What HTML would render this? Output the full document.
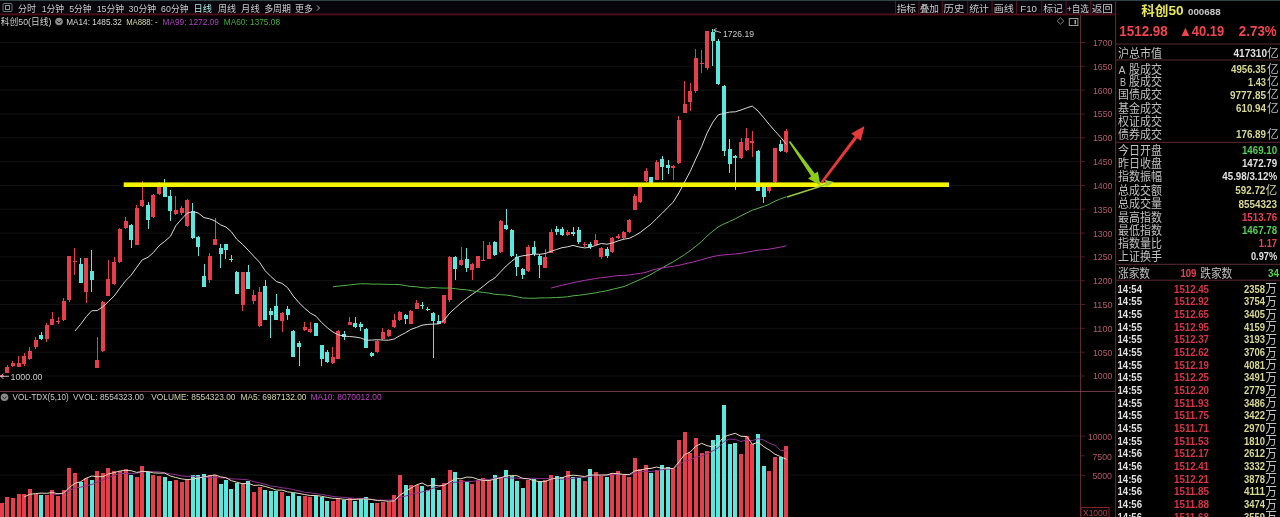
<!DOCTYPE html>
<html><head><meta charset="utf-8"><title>科创50</title>
<style>
html,body{margin:0;padding:0;background:#000;}
body{width:1280px;height:517px;overflow:hidden;position:relative;}
svg{position:absolute;left:0;top:0;display:block;font-family:'Liberation Sans','Noto Sans CJK SC',sans-serif;}
</style></head><body>
<svg width="1280" height="517" viewBox="0 0 1280 517">
<rect x="0" y="1" width="1116" height="12.5" fill="#08050d"/>
<g stroke="#121212" stroke-width="1">
<line x1="0" y1="42.5" x2="1080" y2="42.5"/>
<line x1="0" y1="66.3" x2="1080" y2="66.3"/>
<line x1="0" y1="90.1" x2="1080" y2="90.1"/>
<line x1="0" y1="114.0" x2="1080" y2="114.0"/>
<line x1="0" y1="137.8" x2="1080" y2="137.8"/>
<line x1="0" y1="161.6" x2="1080" y2="161.6"/>
<line x1="0" y1="185.4" x2="1080" y2="185.4"/>
<line x1="0" y1="209.2" x2="1080" y2="209.2"/>
<line x1="0" y1="233.1" x2="1080" y2="233.1"/>
<line x1="0" y1="256.9" x2="1080" y2="256.9"/>
<line x1="0" y1="280.7" x2="1080" y2="280.7"/>
<line x1="0" y1="304.5" x2="1080" y2="304.5"/>
<line x1="0" y1="328.3" x2="1080" y2="328.3"/>
<line x1="0" y1="352.2" x2="1080" y2="352.2"/>
<line x1="0" y1="376.0" x2="1080" y2="376.0"/>
<line x1="0" y1="435.8" x2="1080" y2="435.8"/>
<line x1="0" y1="475.0" x2="1080" y2="475.0"/>
</g>
<g shape-rendering="crispEdges">
<rect x="1.1" y="375.0" width="1" height="2.0" fill="#e83e4c"/>
<rect x="-0.4" y="375.3" width="4" height="1.3" fill="#e83e4c"/>
<rect x="6.9" y="365.0" width="1" height="8.0" fill="#e83e4c"/>
<rect x="5.4" y="366.5" width="4" height="6.0" fill="#e83e4c"/>
<rect x="12.4" y="361.0" width="1" height="5.5" fill="#e83e4c"/>
<rect x="10.9" y="362.5" width="4" height="3.0" fill="#e83e4c"/>
<rect x="18.1" y="356.0" width="1" height="11.0" fill="#e83e4c"/>
<rect x="16.6" y="362.5" width="4" height="4.0" fill="#e83e4c"/>
<rect x="23.6" y="353.0" width="1" height="13.0" fill="#e83e4c"/>
<rect x="22.1" y="355.5" width="4" height="8.0" fill="#e83e4c"/>
<rect x="29.3" y="347.4" width="1" height="12.6" fill="#e83e4c"/>
<rect x="27.8" y="350.5" width="4" height="8.2" fill="#e83e4c"/>
<rect x="35.0" y="337.0" width="1" height="11.5" fill="#e83e4c"/>
<rect x="33.5" y="339.5" width="4" height="7.5" fill="#e83e4c"/>
<rect x="40.5" y="332.0" width="1" height="7.5" fill="#58e8e0"/>
<rect x="39.0" y="335.0" width="4" height="3.5" fill="#58e8e0"/>
<rect x="46.2" y="323.0" width="1" height="19.0" fill="#e83e4c"/>
<rect x="44.7" y="325.3" width="4" height="14.1" fill="#e83e4c"/>
<rect x="51.9" y="311.5" width="1" height="13.5" fill="#e83e4c"/>
<rect x="50.4" y="319.0" width="4" height="5.5" fill="#e83e4c"/>
<rect x="57.5" y="317.0" width="1" height="7.0" fill="#e83e4c"/>
<rect x="56.0" y="320.5" width="4" height="1.5" fill="#e83e4c"/>
<rect x="63.1" y="298.0" width="1" height="23.0" fill="#e83e4c"/>
<rect x="61.6" y="301.4" width="4" height="18.6" fill="#e83e4c"/>
<rect x="68.5" y="255.5" width="1" height="46.5" fill="#e83e4c"/>
<rect x="67.0" y="256.4" width="4" height="43.3" fill="#e83e4c"/>
<rect x="74.4" y="247.5" width="1" height="27.5" fill="#e83e4c"/>
<rect x="72.9" y="260.5" width="4" height="1.5" fill="#e83e4c"/>
<rect x="80.1" y="257.6" width="1" height="25.8" fill="#58e8e0"/>
<rect x="78.6" y="264.0" width="4" height="18.8" fill="#58e8e0"/>
<rect x="85.8" y="257.6" width="1" height="45.4" fill="#e83e4c"/>
<rect x="84.3" y="258.0" width="4" height="33.6" fill="#e83e4c"/>
<rect x="91.3" y="250.0" width="1" height="41.6" fill="#58e8e0"/>
<rect x="89.8" y="270.8" width="4" height="8.8" fill="#58e8e0"/>
<rect x="96.7" y="336.5" width="1" height="31.5" fill="#e83e4c"/>
<rect x="95.2" y="360.4" width="4" height="7.6" fill="#e83e4c"/>
<rect x="102.4" y="301.0" width="1" height="51.0" fill="#e83e4c"/>
<rect x="100.9" y="302.0" width="4" height="49.4" fill="#e83e4c"/>
<rect x="107.8" y="260.0" width="1" height="36.0" fill="#e83e4c"/>
<rect x="106.3" y="279.4" width="4" height="16.6" fill="#e83e4c"/>
<rect x="113.6" y="257.0" width="1" height="28.4" fill="#e83e4c"/>
<rect x="112.1" y="261.5" width="4" height="22.5" fill="#e83e4c"/>
<rect x="119.3" y="228.0" width="1" height="35.0" fill="#e83e4c"/>
<rect x="117.8" y="229.4" width="4" height="32.1" fill="#e83e4c"/>
<rect x="125.0" y="216.5" width="1" height="12.0" fill="#e83e4c"/>
<rect x="123.5" y="221.0" width="4" height="6.6" fill="#e83e4c"/>
<rect x="130.6" y="224.0" width="1" height="24.0" fill="#58e8e0"/>
<rect x="129.1" y="224.6" width="4" height="15.0" fill="#58e8e0"/>
<rect x="136.3" y="204.5" width="1" height="40.5" fill="#e83e4c"/>
<rect x="134.8" y="208.4" width="4" height="36.6" fill="#e83e4c"/>
<rect x="141.7" y="180.5" width="1" height="26.5" fill="#e83e4c"/>
<rect x="140.2" y="199.5" width="4" height="6.5" fill="#e83e4c"/>
<rect x="147.5" y="201.5" width="1" height="27.0" fill="#58e8e0"/>
<rect x="146.0" y="205.4" width="4" height="14.1" fill="#58e8e0"/>
<rect x="152.9" y="193.5" width="1" height="24.5" fill="#e83e4c"/>
<rect x="151.4" y="194.6" width="4" height="21.9" fill="#e83e4c"/>
<rect x="158.6" y="182.0" width="1" height="12.5" fill="#e83e4c"/>
<rect x="157.1" y="187.4" width="4" height="6.6" fill="#e83e4c"/>
<rect x="164.2" y="179.0" width="1" height="18.0" fill="#58e8e0"/>
<rect x="162.7" y="186.5" width="4" height="10.5" fill="#58e8e0"/>
<rect x="169.9" y="189.5" width="1" height="31.5" fill="#58e8e0"/>
<rect x="168.4" y="196.4" width="4" height="14.1" fill="#58e8e0"/>
<rect x="175.3" y="196.0" width="1" height="19.0" fill="#e83e4c"/>
<rect x="173.8" y="210.0" width="4" height="4.4" fill="#e83e4c"/>
<rect x="181.1" y="206.0" width="1" height="9.0" fill="#e83e4c"/>
<rect x="179.6" y="208.4" width="4" height="4.6" fill="#e83e4c"/>
<rect x="186.5" y="198.5" width="1" height="28.5" fill="#e83e4c"/>
<rect x="185.0" y="200.0" width="4" height="25.5" fill="#e83e4c"/>
<rect x="192.2" y="203.0" width="1" height="36.0" fill="#58e8e0"/>
<rect x="190.7" y="210.5" width="4" height="27.0" fill="#58e8e0"/>
<rect x="197.6" y="236.0" width="1" height="19.5" fill="#58e8e0"/>
<rect x="196.1" y="236.5" width="4" height="10.9" fill="#58e8e0"/>
<rect x="203.5" y="264.4" width="1" height="22.6" fill="#58e8e0"/>
<rect x="202.0" y="276.4" width="4" height="10.6" fill="#58e8e0"/>
<rect x="209.1" y="252.5" width="1" height="30.0" fill="#e83e4c"/>
<rect x="207.6" y="255.5" width="4" height="24.5" fill="#e83e4c"/>
<rect x="214.5" y="218.0" width="1" height="27.0" fill="#e83e4c"/>
<rect x="213.0" y="239.0" width="4" height="6.0" fill="#e83e4c"/>
<rect x="220.0" y="243.5" width="1" height="24.0" fill="#58e8e0"/>
<rect x="218.5" y="248.0" width="4" height="6.0" fill="#58e8e0"/>
<rect x="225.4" y="243.5" width="1" height="15.0" fill="#58e8e0"/>
<rect x="223.9" y="243.5" width="4" height="6.0" fill="#58e8e0"/>
<rect x="230.8" y="254.5" width="1" height="7.5" fill="#58e8e0"/>
<rect x="229.3" y="258.5" width="4" height="1.5" fill="#58e8e0"/>
<rect x="236.2" y="270.5" width="1" height="23.0" fill="#58e8e0"/>
<rect x="234.7" y="272.0" width="4" height="21.5" fill="#58e8e0"/>
<rect x="242.3" y="272.0" width="1" height="39.0" fill="#e83e4c"/>
<rect x="240.8" y="272.0" width="4" height="33.0" fill="#e83e4c"/>
<rect x="247.7" y="264.5" width="1" height="24.0" fill="#58e8e0"/>
<rect x="246.2" y="272.0" width="4" height="16.5" fill="#58e8e0"/>
<rect x="253.3" y="290.0" width="1" height="13.5" fill="#e83e4c"/>
<rect x="251.8" y="295.4" width="4" height="5.1" fill="#e83e4c"/>
<rect x="259.0" y="287.0" width="1" height="40.4" fill="#e83e4c"/>
<rect x="257.5" y="291.5" width="4" height="34.5" fill="#e83e4c"/>
<rect x="264.7" y="280.4" width="1" height="39.6" fill="#58e8e0"/>
<rect x="263.2" y="285.5" width="4" height="34.5" fill="#58e8e0"/>
<rect x="270.2" y="308.0" width="1" height="30.0" fill="#58e8e0"/>
<rect x="268.7" y="311.0" width="4" height="4.4" fill="#58e8e0"/>
<rect x="275.9" y="293.5" width="1" height="26.5" fill="#58e8e0"/>
<rect x="274.4" y="306.4" width="4" height="13.6" fill="#58e8e0"/>
<rect x="281.5" y="312.4" width="1" height="19.6" fill="#e83e4c"/>
<rect x="280.0" y="313.3" width="4" height="8.1" fill="#e83e4c"/>
<rect x="287.1" y="305.5" width="1" height="14.5" fill="#58e8e0"/>
<rect x="285.6" y="309.4" width="4" height="6.0" fill="#58e8e0"/>
<rect x="292.8" y="330.0" width="1" height="27.0" fill="#58e8e0"/>
<rect x="291.3" y="330.6" width="4" height="26.1" fill="#58e8e0"/>
<rect x="298.5" y="341.0" width="1" height="25.4" fill="#58e8e0"/>
<rect x="297.0" y="343.4" width="4" height="3.2" fill="#58e8e0"/>
<rect x="304.1" y="321.7" width="1" height="9.6" fill="#e83e4c"/>
<rect x="302.6" y="326.5" width="4" height="3.5" fill="#e83e4c"/>
<rect x="309.8" y="321.7" width="1" height="10.8" fill="#e83e4c"/>
<rect x="308.3" y="329.0" width="4" height="3.0" fill="#e83e4c"/>
<rect x="315.5" y="322.8" width="1" height="13.2" fill="#58e8e0"/>
<rect x="314.0" y="323.3" width="4" height="12.7" fill="#58e8e0"/>
<rect x="321.0" y="344.6" width="1" height="21.8" fill="#58e8e0"/>
<rect x="319.5" y="345.0" width="4" height="14.0" fill="#58e8e0"/>
<rect x="326.7" y="350.0" width="1" height="12.8" fill="#58e8e0"/>
<rect x="325.2" y="352.0" width="4" height="9.5" fill="#58e8e0"/>
<rect x="332.4" y="347.0" width="1" height="17.0" fill="#e83e4c"/>
<rect x="330.9" y="356.7" width="4" height="6.1" fill="#e83e4c"/>
<rect x="337.8" y="330.0" width="1" height="29.0" fill="#e83e4c"/>
<rect x="336.3" y="331.3" width="4" height="27.7" fill="#e83e4c"/>
<rect x="343.6" y="331.3" width="1" height="8.5" fill="#58e8e0"/>
<rect x="342.1" y="333.7" width="4" height="3.7" fill="#58e8e0"/>
<rect x="349.0" y="316.8" width="1" height="8.5" fill="#e83e4c"/>
<rect x="347.5" y="321.7" width="4" height="3.1" fill="#e83e4c"/>
<rect x="354.5" y="316.8" width="1" height="10.9" fill="#58e8e0"/>
<rect x="353.0" y="322.9" width="4" height="3.6" fill="#58e8e0"/>
<rect x="360.1" y="322.4" width="1" height="8.9" fill="#58e8e0"/>
<rect x="358.6" y="324.0" width="4" height="2.5" fill="#58e8e0"/>
<rect x="365.7" y="327.7" width="1" height="20.3" fill="#58e8e0"/>
<rect x="364.2" y="329.0" width="4" height="18.5" fill="#58e8e0"/>
<rect x="371.4" y="352.0" width="1" height="4.7" fill="#58e8e0"/>
<rect x="369.9" y="353.0" width="4" height="2.5" fill="#58e8e0"/>
<rect x="376.9" y="339.8" width="1" height="13.2" fill="#e83e4c"/>
<rect x="375.4" y="341.0" width="4" height="11.0" fill="#e83e4c"/>
<rect x="382.4" y="327.7" width="1" height="12.1" fill="#e83e4c"/>
<rect x="380.9" y="332.0" width="4" height="6.6" fill="#e83e4c"/>
<rect x="388.0" y="329.0" width="1" height="8.4" fill="#e83e4c"/>
<rect x="386.5" y="330.0" width="4" height="6.0" fill="#e83e4c"/>
<rect x="393.7" y="314.4" width="1" height="13.3" fill="#e83e4c"/>
<rect x="392.2" y="320.0" width="4" height="7.0" fill="#e83e4c"/>
<rect x="399.3" y="311.0" width="1" height="10.0" fill="#e83e4c"/>
<rect x="397.8" y="312.4" width="4" height="7.6" fill="#e83e4c"/>
<rect x="405.0" y="314.0" width="1" height="10.4" fill="#58e8e0"/>
<rect x="403.5" y="314.5" width="4" height="4.8" fill="#58e8e0"/>
<rect x="410.4" y="309.5" width="1" height="14.9" fill="#e83e4c"/>
<rect x="408.9" y="311.0" width="4" height="13.4" fill="#e83e4c"/>
<rect x="416.1" y="300.4" width="1" height="9.0" fill="#e83e4c"/>
<rect x="414.6" y="303.4" width="4" height="5.1" fill="#e83e4c"/>
<rect x="421.6" y="302.0" width="1" height="6.5" fill="#58e8e0"/>
<rect x="420.1" y="305.0" width="4" height="1.4" fill="#58e8e0"/>
<rect x="427.3" y="306.5" width="1" height="4.5" fill="#58e8e0"/>
<rect x="425.8" y="308.5" width="4" height="1.8" fill="#58e8e0"/>
<rect x="432.5" y="312.4" width="1" height="45.6" fill="#58e8e0"/>
<rect x="431.0" y="313.3" width="4" height="8.1" fill="#58e8e0"/>
<rect x="438.1" y="315.4" width="1" height="9.0" fill="#58e8e0"/>
<rect x="436.6" y="321.4" width="4" height="3.0" fill="#58e8e0"/>
<rect x="443.5" y="294.5" width="1" height="29.0" fill="#e83e4c"/>
<rect x="442.0" y="295.4" width="4" height="27.6" fill="#e83e4c"/>
<rect x="449.2" y="255.5" width="1" height="46.5" fill="#e83e4c"/>
<rect x="447.7" y="257.0" width="4" height="43.4" fill="#e83e4c"/>
<rect x="454.8" y="256.4" width="1" height="23.1" fill="#58e8e0"/>
<rect x="453.3" y="257.0" width="4" height="12.0" fill="#58e8e0"/>
<rect x="460.5" y="246.5" width="1" height="19.5" fill="#e83e4c"/>
<rect x="459.0" y="260.0" width="4" height="5.4" fill="#e83e4c"/>
<rect x="466.2" y="248.0" width="1" height="24.0" fill="#58e8e0"/>
<rect x="464.7" y="258.7" width="4" height="9.6" fill="#58e8e0"/>
<rect x="471.7" y="263.0" width="1" height="16.5" fill="#e83e4c"/>
<rect x="470.2" y="264.0" width="4" height="6.4" fill="#e83e4c"/>
<rect x="477.4" y="255.5" width="1" height="12.9" fill="#e83e4c"/>
<rect x="475.9" y="256.0" width="4" height="11.8" fill="#e83e4c"/>
<rect x="482.8" y="240.6" width="1" height="20.8" fill="#e83e4c"/>
<rect x="481.3" y="259.8" width="4" height="1.6" fill="#e83e4c"/>
<rect x="488.7" y="241.7" width="1" height="17.6" fill="#e83e4c"/>
<rect x="487.2" y="244.9" width="4" height="13.8" fill="#e83e4c"/>
<rect x="494.3" y="241.4" width="1" height="14.1" fill="#58e8e0"/>
<rect x="492.8" y="242.2" width="4" height="12.3" fill="#58e8e0"/>
<rect x="500.0" y="219.5" width="1" height="33.0" fill="#e83e4c"/>
<rect x="498.5" y="221.0" width="4" height="30.6" fill="#e83e4c"/>
<rect x="505.6" y="209.0" width="1" height="21.0" fill="#58e8e0"/>
<rect x="504.1" y="224.6" width="4" height="4.8" fill="#58e8e0"/>
<rect x="511.0" y="228.5" width="1" height="28.5" fill="#58e8e0"/>
<rect x="509.5" y="230.0" width="4" height="25.5" fill="#58e8e0"/>
<rect x="516.4" y="254.0" width="1" height="21.5" fill="#58e8e0"/>
<rect x="514.9" y="257.0" width="4" height="9.5" fill="#58e8e0"/>
<rect x="522.2" y="267.5" width="1" height="11.0" fill="#58e8e0"/>
<rect x="520.7" y="269.0" width="4" height="6.0" fill="#58e8e0"/>
<rect x="527.9" y="245.0" width="1" height="27.0" fill="#e83e4c"/>
<rect x="526.4" y="246.5" width="4" height="24.9" fill="#e83e4c"/>
<rect x="533.6" y="241.4" width="1" height="14.1" fill="#58e8e0"/>
<rect x="532.1" y="246.5" width="4" height="7.5" fill="#58e8e0"/>
<rect x="539.2" y="254.0" width="1" height="24.0" fill="#58e8e0"/>
<rect x="537.7" y="255.5" width="4" height="9.9" fill="#58e8e0"/>
<rect x="544.9" y="248.6" width="1" height="19.8" fill="#e83e4c"/>
<rect x="543.4" y="257.0" width="4" height="10.5" fill="#e83e4c"/>
<rect x="550.5" y="228.5" width="1" height="24.0" fill="#e83e4c"/>
<rect x="549.0" y="232.4" width="4" height="20.1" fill="#e83e4c"/>
<rect x="556.0" y="225.5" width="1" height="9.0" fill="#58e8e0"/>
<rect x="554.5" y="228.5" width="4" height="3.0" fill="#58e8e0"/>
<rect x="561.5" y="227.0" width="1" height="9.0" fill="#58e8e0"/>
<rect x="560.0" y="228.5" width="4" height="6.0" fill="#58e8e0"/>
<rect x="567.2" y="230.0" width="1" height="6.0" fill="#e83e4c"/>
<rect x="565.7" y="232.4" width="4" height="2.1" fill="#e83e4c"/>
<rect x="572.6" y="227.0" width="1" height="9.0" fill="#58e8e0"/>
<rect x="571.1" y="232.4" width="4" height="1.6" fill="#58e8e0"/>
<rect x="578.3" y="227.0" width="1" height="16.5" fill="#58e8e0"/>
<rect x="576.8" y="230.0" width="4" height="12.0" fill="#58e8e0"/>
<rect x="584.1" y="242.0" width="1" height="4.5" fill="#e83e4c"/>
<rect x="582.6" y="243.5" width="4" height="1.5" fill="#e83e4c"/>
<rect x="589.5" y="242.0" width="1" height="6.5" fill="#58e8e0"/>
<rect x="588.0" y="243.5" width="4" height="3.9" fill="#58e8e0"/>
<rect x="595.2" y="233.5" width="1" height="11.9" fill="#e83e4c"/>
<rect x="593.7" y="240.0" width="4" height="5.0" fill="#e83e4c"/>
<rect x="600.8" y="247.0" width="1" height="11.5" fill="#e83e4c"/>
<rect x="599.3" y="248.4" width="4" height="9.0" fill="#e83e4c"/>
<rect x="606.5" y="247.0" width="1" height="10.5" fill="#58e8e0"/>
<rect x="605.0" y="249.3" width="4" height="6.7" fill="#58e8e0"/>
<rect x="611.9" y="236.5" width="1" height="16.5" fill="#e83e4c"/>
<rect x="610.4" y="238.0" width="4" height="14.3" fill="#e83e4c"/>
<rect x="617.5" y="233.5" width="1" height="5.9" fill="#e83e4c"/>
<rect x="616.0" y="236.0" width="4" height="1.5" fill="#e83e4c"/>
<rect x="623.4" y="230.5" width="1" height="8.0" fill="#e83e4c"/>
<rect x="621.9" y="232.0" width="4" height="6.0" fill="#e83e4c"/>
<rect x="628.8" y="218.5" width="1" height="14.0" fill="#e83e4c"/>
<rect x="627.3" y="220.0" width="4" height="12.0" fill="#e83e4c"/>
<rect x="634.2" y="193.5" width="1" height="16.9" fill="#e83e4c"/>
<rect x="632.7" y="195.5" width="4" height="14.0" fill="#e83e4c"/>
<rect x="639.9" y="183.4" width="1" height="19.2" fill="#e83e4c"/>
<rect x="638.4" y="187.0" width="4" height="15.0" fill="#e83e4c"/>
<rect x="645.5" y="168.0" width="1" height="13.6" fill="#e83e4c"/>
<rect x="644.0" y="171.0" width="4" height="10.0" fill="#e83e4c"/>
<rect x="650.5" y="176.5" width="1" height="10.5" fill="#58e8e0"/>
<rect x="649.0" y="177.4" width="4" height="5.1" fill="#58e8e0"/>
<rect x="656.2" y="159.5" width="1" height="20.9" fill="#e83e4c"/>
<rect x="654.7" y="161.5" width="4" height="18.0" fill="#e83e4c"/>
<rect x="661.9" y="156.4" width="1" height="23.1" fill="#58e8e0"/>
<rect x="660.4" y="158.5" width="4" height="8.1" fill="#58e8e0"/>
<rect x="667.5" y="160.0" width="1" height="14.4" fill="#58e8e0"/>
<rect x="666.0" y="165.4" width="4" height="3.0" fill="#58e8e0"/>
<rect x="672.7" y="165.4" width="1" height="14.1" fill="#e83e4c"/>
<rect x="671.2" y="166.0" width="4" height="1.5" fill="#e83e4c"/>
<rect x="678.4" y="116.0" width="1" height="48.0" fill="#e83e4c"/>
<rect x="676.9" y="119.5" width="4" height="43.5" fill="#e83e4c"/>
<rect x="684.1" y="81.4" width="1" height="32.0" fill="#e83e4c"/>
<rect x="682.6" y="103.5" width="4" height="9.9" fill="#e83e4c"/>
<rect x="689.7" y="82.7" width="1" height="28.3" fill="#e83e4c"/>
<rect x="688.2" y="91.3" width="4" height="11.0" fill="#e83e4c"/>
<rect x="695.4" y="49.4" width="1" height="43.1" fill="#e83e4c"/>
<rect x="693.9" y="58.0" width="4" height="33.3" fill="#e83e4c"/>
<rect x="701.1" y="50.0" width="1" height="23.0" fill="#e83e4c"/>
<rect x="699.6" y="63.0" width="4" height="1.3" fill="#e83e4c"/>
<rect x="706.5" y="30.5" width="1" height="39.5" fill="#e83e4c"/>
<rect x="705.0" y="31.0" width="4" height="37.4" fill="#e83e4c"/>
<rect x="712.4" y="28.8" width="1" height="36.8" fill="#58e8e0"/>
<rect x="710.9" y="31.8" width="4" height="8.8" fill="#58e8e0"/>
<rect x="717.8" y="39.0" width="1" height="46.0" fill="#58e8e0"/>
<rect x="716.3" y="40.6" width="4" height="43.4" fill="#58e8e0"/>
<rect x="723.5" y="85.0" width="1" height="70.8" fill="#58e8e0"/>
<rect x="722.0" y="86.3" width="4" height="65.1" fill="#58e8e0"/>
<rect x="729.1" y="139.0" width="1" height="34.0" fill="#58e8e0"/>
<rect x="727.6" y="148.7" width="4" height="15.7" fill="#58e8e0"/>
<rect x="734.8" y="154.8" width="1" height="34.9" fill="#58e8e0"/>
<rect x="733.3" y="155.7" width="4" height="1.8" fill="#58e8e0"/>
<rect x="740.5" y="138.0" width="1" height="20.8" fill="#e83e4c"/>
<rect x="739.0" y="141.8" width="4" height="16.5" fill="#e83e4c"/>
<rect x="746.2" y="127.8" width="1" height="22.7" fill="#e83e4c"/>
<rect x="744.7" y="138.3" width="4" height="11.3" fill="#e83e4c"/>
<rect x="751.8" y="130.5" width="1" height="26.1" fill="#e83e4c"/>
<rect x="750.3" y="140.6" width="4" height="2.4" fill="#e83e4c"/>
<rect x="757.6" y="150.2" width="1" height="40.5" fill="#58e8e0"/>
<rect x="756.1" y="151.4" width="4" height="39.2" fill="#58e8e0"/>
<rect x="763.3" y="186.2" width="1" height="16.6" fill="#58e8e0"/>
<rect x="761.8" y="187.0" width="4" height="9.7" fill="#58e8e0"/>
<rect x="768.9" y="186.0" width="1" height="7.0" fill="#e83e4c"/>
<rect x="767.4" y="187.0" width="4" height="4.4" fill="#e83e4c"/>
<rect x="774.5" y="147.5" width="1" height="36.5" fill="#e83e4c"/>
<rect x="773.0" y="147.9" width="4" height="33.9" fill="#e83e4c"/>
<rect x="780.2" y="140.0" width="1" height="12.2" fill="#58e8e0"/>
<rect x="778.7" y="144.4" width="4" height="6.1" fill="#58e8e0"/>
<rect x="785.9" y="129.3" width="1" height="23.4" fill="#e83e4c"/>
<rect x="784.4" y="130.5" width="4" height="21.7" fill="#e83e4c"/>
</g>
<polyline points="74.9,331.0 80.6,324.4 86.3,316.6 91.8,310.7 97.2,310.6 102.9,306.7 108.3,301.7 114.1,296.1 119.8,288.3 125.5,280.9 131.1,275.2 136.8,267.2 142.2,259.9 148.0,257.3 153.4,252.5 159.1,245.7 164.7,241.4 170.4,236.4 175.8,225.7 181.6,219.0 187.0,213.3 192.7,211.6 198.1,212.9 204.0,217.6 209.6,218.8 215.0,221.0 220.5,224.8 225.9,227.0 231.3,231.7 236.7,239.2 242.8,244.6 248.2,250.2 253.8,256.3 259.5,262.2 265.2,270.8 270.7,276.3 276.4,281.5 282.0,283.4 287.6,287.7 293.3,296.1 299.0,302.7 304.6,308.2 310.3,313.1 316.0,316.2 321.5,322.4 327.2,327.6 332.9,332.0 338.3,334.8 344.1,336.1 349.5,336.5 355.0,337.0 360.6,337.9 366.2,340.2 371.9,340.1 377.4,339.7 382.9,340.1 388.5,340.2 394.2,339.0 399.8,335.7 405.5,332.7 410.9,329.4 416.6,327.4 422.1,325.2 427.8,324.4 433.0,324.1 438.6,323.9 444.0,320.2 449.7,313.1 455.3,308.0 461.0,302.9 466.7,298.4 472.2,294.4 477.9,290.4 483.3,286.2 489.2,281.4 494.8,278.0 500.5,271.9 506.1,266.1 511.5,261.4 516.9,257.2 522.7,255.8 528.4,255.0 534.1,254.0 539.7,254.3 545.4,253.5 551.0,251.3 556.5,249.5 562.0,247.7 567.7,246.8 573.1,245.4 578.8,246.9 584.6,247.9 590.0,247.3 595.7,245.4 601.3,243.5 607.0,244.2 612.4,243.0 618.0,240.9 623.9,239.2 629.3,238.3 634.7,235.7 640.4,232.3 646.0,227.9 651.0,224.2 656.7,218.5 662.4,213.0 668.0,207.3 673.2,202.1 678.9,192.9 684.6,182.0 690.2,171.5 695.9,158.8 701.6,146.7 707.0,133.2 712.9,122.1 718.3,114.8 724.0,113.4 729.6,112.1 735.3,111.8 741.0,110.0 746.7,107.9 752.3,106.1 758.1,111.1 763.8,117.8 769.4,124.6 775.0,131.1 780.7,137.3 786.4,144.4" fill="none" stroke="#d8d8d8" stroke-width="1"/>
<polyline points="332.9,286.8 338.3,286.1 344.1,285.6 349.5,284.9 355.0,284.3 360.6,283.8 366.2,283.8 371.9,284.1 377.4,284.1 382.9,284.2 388.5,284.4 394.2,284.4 399.8,284.6 405.5,285.6 410.9,286.5 416.6,286.8 422.1,287.6 427.8,288.1 433.0,287.5 438.6,287.9 444.0,288.1 449.7,288.0 455.3,288.7 461.0,289.4 466.7,289.8 472.2,290.8 477.9,291.7 483.3,292.4 489.2,293.2 494.8,294.3 500.5,294.7 506.1,295.0 511.5,295.8 516.9,296.8 522.7,298.0 528.4,298.2 534.1,298.3 539.7,297.9 545.4,297.9 551.0,297.8 556.5,297.5 562.0,297.2 567.7,296.8 573.1,295.8 578.8,295.3 584.6,294.5 590.0,293.7 595.7,292.9 601.3,291.7 607.0,290.7 612.4,289.3 618.0,288.0 623.9,286.6 629.3,284.3 634.7,281.8 640.4,279.5 646.0,276.9 651.0,274.3 656.7,271.0 662.4,267.8 668.0,264.6 673.2,261.9 678.9,258.2 684.6,254.6 690.2,250.7 695.9,246.2 701.6,241.5 707.0,236.1 712.9,231.1 718.3,226.9 724.0,223.9 729.6,221.4 735.3,218.8 741.0,215.8 746.7,212.9 752.3,210.2 758.1,208.3 763.8,206.4 769.4,204.2 775.0,201.2 780.7,198.8 786.4,196.7" fill="none" stroke="#52b446" stroke-width="1"/>
<polyline points="551.0,288.1 556.5,286.6 562.0,285.3 567.7,284.0 573.1,282.7 578.8,281.5 584.6,280.4 590.0,279.5 595.7,278.5 601.3,277.7 607.0,277.1 612.4,276.3 618.0,275.6 623.9,275.4 629.3,275.0 634.7,274.1 640.4,273.4 646.0,272.3 651.0,270.5 656.7,269.0 662.4,267.9 668.0,267.0 673.2,266.3 678.9,265.3 684.6,263.9 690.2,262.7 695.9,261.3 701.6,259.7 707.0,258.1 712.9,256.6 718.3,255.5 724.0,254.9 729.6,254.4 735.3,253.9 741.0,253.3 746.7,252.3 752.3,251.2 758.1,250.2 763.8,249.7 769.4,249.1 775.0,248.1 780.7,247.1 786.4,245.7" fill="none" stroke="#b030b0" stroke-width="1"/>
<g shape-rendering="crispEdges">
<rect x="-0.4" y="502.5" width="4" height="14.5" fill="#e83e4c"/>
<rect x="5.4" y="497.1" width="4" height="19.9" fill="#e83e4c"/>
<rect x="10.9" y="497.8" width="4" height="19.2" fill="#e83e4c"/>
<rect x="16.6" y="493.7" width="4" height="23.3" fill="#e83e4c"/>
<rect x="22.1" y="493.7" width="4" height="23.3" fill="#e83e4c"/>
<rect x="27.8" y="489.2" width="4" height="27.8" fill="#e83e4c"/>
<rect x="33.5" y="493.7" width="4" height="23.3" fill="#e83e4c"/>
<rect x="39.0" y="495.0" width="4" height="22.0" fill="#58e8e0"/>
<rect x="44.7" y="495.0" width="4" height="22.0" fill="#e83e4c"/>
<rect x="50.4" y="489.7" width="4" height="27.3" fill="#e83e4c"/>
<rect x="56.0" y="495.7" width="4" height="21.3" fill="#e83e4c"/>
<rect x="61.6" y="490.0" width="4" height="27.0" fill="#e83e4c"/>
<rect x="67.0" y="468.0" width="4" height="49.0" fill="#e83e4c"/>
<rect x="72.9" y="473.4" width="4" height="43.6" fill="#e83e4c"/>
<rect x="78.6" y="481.5" width="4" height="35.5" fill="#58e8e0"/>
<rect x="84.3" y="477.5" width="4" height="39.5" fill="#e83e4c"/>
<rect x="89.8" y="479.5" width="4" height="37.5" fill="#58e8e0"/>
<rect x="95.2" y="471.4" width="4" height="45.6" fill="#e83e4c"/>
<rect x="100.9" y="473.4" width="4" height="43.6" fill="#e83e4c"/>
<rect x="106.3" y="468.0" width="4" height="49.0" fill="#e83e4c"/>
<rect x="112.1" y="470.7" width="4" height="46.3" fill="#e83e4c"/>
<rect x="117.8" y="471.4" width="4" height="45.6" fill="#e83e4c"/>
<rect x="123.5" y="468.5" width="4" height="48.5" fill="#e83e4c"/>
<rect x="129.1" y="474.8" width="4" height="42.2" fill="#58e8e0"/>
<rect x="134.8" y="476.8" width="4" height="40.2" fill="#e83e4c"/>
<rect x="140.2" y="466.0" width="4" height="51.0" fill="#e83e4c"/>
<rect x="146.0" y="472.0" width="4" height="45.0" fill="#58e8e0"/>
<rect x="151.4" y="474.8" width="4" height="42.2" fill="#e83e4c"/>
<rect x="157.1" y="475.7" width="4" height="41.3" fill="#e83e4c"/>
<rect x="162.7" y="476.8" width="4" height="40.2" fill="#58e8e0"/>
<rect x="168.4" y="480.9" width="4" height="36.1" fill="#58e8e0"/>
<rect x="173.8" y="479.5" width="4" height="37.5" fill="#e83e4c"/>
<rect x="179.6" y="481.5" width="4" height="35.5" fill="#e83e4c"/>
<rect x="185.0" y="479.5" width="4" height="37.5" fill="#e83e4c"/>
<rect x="190.7" y="474.8" width="4" height="42.2" fill="#58e8e0"/>
<rect x="196.1" y="475.4" width="4" height="41.6" fill="#58e8e0"/>
<rect x="202.0" y="474.0" width="4" height="43.0" fill="#58e8e0"/>
<rect x="207.6" y="475.4" width="4" height="41.6" fill="#e83e4c"/>
<rect x="213.0" y="474.8" width="4" height="42.2" fill="#e83e4c"/>
<rect x="218.5" y="484.2" width="4" height="32.8" fill="#58e8e0"/>
<rect x="223.9" y="480.2" width="4" height="36.8" fill="#58e8e0"/>
<rect x="229.3" y="489.0" width="4" height="28.0" fill="#58e8e0"/>
<rect x="234.7" y="482.9" width="4" height="34.1" fill="#58e8e0"/>
<rect x="240.8" y="482.9" width="4" height="34.1" fill="#e83e4c"/>
<rect x="246.2" y="480.6" width="4" height="36.4" fill="#58e8e0"/>
<rect x="251.8" y="491.7" width="4" height="25.3" fill="#e83e4c"/>
<rect x="257.5" y="487.4" width="4" height="29.6" fill="#e83e4c"/>
<rect x="263.2" y="489.7" width="4" height="27.3" fill="#58e8e0"/>
<rect x="268.7" y="491.0" width="4" height="26.0" fill="#58e8e0"/>
<rect x="274.4" y="490.6" width="4" height="26.4" fill="#58e8e0"/>
<rect x="280.0" y="492.0" width="4" height="25.0" fill="#e83e4c"/>
<rect x="285.6" y="496.0" width="4" height="21.0" fill="#58e8e0"/>
<rect x="291.3" y="493.0" width="4" height="24.0" fill="#58e8e0"/>
<rect x="297.0" y="496.0" width="4" height="21.0" fill="#58e8e0"/>
<rect x="302.6" y="495.7" width="4" height="21.3" fill="#e83e4c"/>
<rect x="308.3" y="497.0" width="4" height="20.0" fill="#e83e4c"/>
<rect x="314.0" y="496.0" width="4" height="21.0" fill="#58e8e0"/>
<rect x="319.5" y="497.0" width="4" height="20.0" fill="#58e8e0"/>
<rect x="325.2" y="501.2" width="4" height="15.8" fill="#58e8e0"/>
<rect x="330.9" y="500.5" width="4" height="16.5" fill="#e83e4c"/>
<rect x="336.3" y="497.8" width="4" height="19.2" fill="#e83e4c"/>
<rect x="342.1" y="499.8" width="4" height="17.2" fill="#58e8e0"/>
<rect x="347.5" y="497.8" width="4" height="19.2" fill="#e83e4c"/>
<rect x="353.0" y="501.2" width="4" height="15.8" fill="#58e8e0"/>
<rect x="358.6" y="499.1" width="4" height="17.9" fill="#58e8e0"/>
<rect x="364.2" y="497.0" width="4" height="20.0" fill="#58e8e0"/>
<rect x="369.9" y="502.5" width="4" height="14.5" fill="#58e8e0"/>
<rect x="375.4" y="503.2" width="4" height="13.8" fill="#e83e4c"/>
<rect x="380.9" y="501.8" width="4" height="15.2" fill="#e83e4c"/>
<rect x="386.5" y="501.8" width="4" height="15.2" fill="#e83e4c"/>
<rect x="392.2" y="495.0" width="4" height="22.0" fill="#e83e4c"/>
<rect x="397.8" y="474.8" width="4" height="42.2" fill="#e83e4c"/>
<rect x="403.5" y="484.6" width="4" height="32.4" fill="#58e8e0"/>
<rect x="408.9" y="484.9" width="4" height="32.1" fill="#e83e4c"/>
<rect x="414.6" y="484.9" width="4" height="32.1" fill="#e83e4c"/>
<rect x="420.1" y="486.0" width="4" height="31.0" fill="#58e8e0"/>
<rect x="425.8" y="489.7" width="4" height="27.3" fill="#58e8e0"/>
<rect x="431.0" y="478.4" width="4" height="38.6" fill="#58e8e0"/>
<rect x="436.6" y="490.0" width="4" height="27.0" fill="#58e8e0"/>
<rect x="442.0" y="482.9" width="4" height="34.1" fill="#e83e4c"/>
<rect x="447.7" y="469.7" width="4" height="47.3" fill="#e83e4c"/>
<rect x="453.3" y="472.0" width="4" height="45.0" fill="#58e8e0"/>
<rect x="459.0" y="479.5" width="4" height="37.5" fill="#e83e4c"/>
<rect x="464.7" y="481.5" width="4" height="35.5" fill="#58e8e0"/>
<rect x="470.2" y="483.8" width="4" height="33.2" fill="#e83e4c"/>
<rect x="475.9" y="479.5" width="4" height="37.5" fill="#e83e4c"/>
<rect x="481.3" y="477.5" width="4" height="39.5" fill="#e83e4c"/>
<rect x="487.2" y="480.2" width="4" height="36.8" fill="#e83e4c"/>
<rect x="492.8" y="474.8" width="4" height="42.2" fill="#58e8e0"/>
<rect x="498.5" y="476.8" width="4" height="40.2" fill="#e83e4c"/>
<rect x="504.1" y="470.0" width="4" height="47.0" fill="#58e8e0"/>
<rect x="509.5" y="476.1" width="4" height="40.9" fill="#58e8e0"/>
<rect x="514.9" y="480.9" width="4" height="36.1" fill="#58e8e0"/>
<rect x="520.7" y="487.9" width="4" height="29.1" fill="#58e8e0"/>
<rect x="526.4" y="479.5" width="4" height="37.5" fill="#e83e4c"/>
<rect x="532.1" y="479.2" width="4" height="37.8" fill="#58e8e0"/>
<rect x="537.7" y="481.1" width="4" height="35.9" fill="#58e8e0"/>
<rect x="543.4" y="480.2" width="4" height="36.8" fill="#e83e4c"/>
<rect x="549.0" y="474.8" width="4" height="42.2" fill="#e83e4c"/>
<rect x="554.5" y="476.1" width="4" height="40.9" fill="#58e8e0"/>
<rect x="560.0" y="477.0" width="4" height="40.0" fill="#58e8e0"/>
<rect x="565.7" y="471.1" width="4" height="45.9" fill="#e83e4c"/>
<rect x="571.1" y="476.8" width="4" height="40.2" fill="#58e8e0"/>
<rect x="576.8" y="477.5" width="4" height="39.5" fill="#58e8e0"/>
<rect x="582.6" y="480.6" width="4" height="36.4" fill="#e83e4c"/>
<rect x="588.0" y="468.7" width="4" height="48.3" fill="#58e8e0"/>
<rect x="593.7" y="472.0" width="4" height="45.0" fill="#e83e4c"/>
<rect x="599.3" y="476.1" width="4" height="40.9" fill="#e83e4c"/>
<rect x="605.0" y="477.0" width="4" height="40.0" fill="#58e8e0"/>
<rect x="610.4" y="472.7" width="4" height="44.3" fill="#e83e4c"/>
<rect x="616.0" y="471.4" width="4" height="45.6" fill="#e83e4c"/>
<rect x="621.9" y="474.8" width="4" height="42.2" fill="#e83e4c"/>
<rect x="627.3" y="477.0" width="4" height="40.0" fill="#e83e4c"/>
<rect x="632.7" y="458.4" width="4" height="58.6" fill="#e83e4c"/>
<rect x="638.4" y="469.0" width="4" height="48.0" fill="#e83e4c"/>
<rect x="644.0" y="464.5" width="4" height="52.5" fill="#e83e4c"/>
<rect x="649.0" y="472.9" width="4" height="44.1" fill="#58e8e0"/>
<rect x="654.7" y="470.2" width="4" height="46.8" fill="#e83e4c"/>
<rect x="660.4" y="465.2" width="4" height="51.8" fill="#58e8e0"/>
<rect x="666.0" y="467.4" width="4" height="49.6" fill="#58e8e0"/>
<rect x="671.2" y="467.9" width="4" height="49.1" fill="#e83e4c"/>
<rect x="676.9" y="439.6" width="4" height="77.4" fill="#e83e4c"/>
<rect x="682.6" y="432.4" width="4" height="84.6" fill="#e83e4c"/>
<rect x="688.2" y="453.2" width="4" height="63.8" fill="#e83e4c"/>
<rect x="693.9" y="438.0" width="4" height="79.0" fill="#e83e4c"/>
<rect x="699.6" y="453.2" width="4" height="63.8" fill="#e83e4c"/>
<rect x="705.0" y="451.0" width="4" height="66.0" fill="#e83e4c"/>
<rect x="710.9" y="439.6" width="4" height="77.4" fill="#58e8e0"/>
<rect x="716.3" y="435.0" width="4" height="82.0" fill="#58e8e0"/>
<rect x="722.0" y="405.0" width="4" height="112.0" fill="#58e8e0"/>
<rect x="727.6" y="444.1" width="4" height="72.9" fill="#58e8e0"/>
<rect x="733.3" y="443.0" width="4" height="74.0" fill="#58e8e0"/>
<rect x="739.0" y="454.3" width="4" height="62.7" fill="#e83e4c"/>
<rect x="744.7" y="436.2" width="4" height="80.8" fill="#e83e4c"/>
<rect x="750.3" y="444.1" width="4" height="72.9" fill="#e83e4c"/>
<rect x="756.1" y="433.5" width="4" height="83.5" fill="#58e8e0"/>
<rect x="761.8" y="465.6" width="4" height="51.4" fill="#58e8e0"/>
<rect x="767.4" y="471.3" width="4" height="45.7" fill="#e83e4c"/>
<rect x="773.0" y="456.6" width="4" height="60.4" fill="#e83e4c"/>
<rect x="778.7" y="456.6" width="4" height="60.4" fill="#58e8e0"/>
<rect x="784.4" y="446.4" width="4" height="70.6" fill="#e83e4c"/>
</g>
<polyline points="52.4,494.7 58.0,494.1 63.6,493.4 69.0,490.4 74.9,488.3 80.6,487.1 86.3,485.9 91.8,484.5 97.2,482.2 102.9,480.0 108.3,477.8 114.1,475.3 119.8,473.5 125.5,473.5 131.1,473.7 136.8,473.2 142.2,472.1 148.0,471.3 153.4,471.6 159.1,471.9 164.7,472.8 170.4,473.8 175.8,474.6 181.6,475.9 187.0,476.4 192.7,476.1 198.1,477.1 204.0,477.3 209.6,477.4 215.0,477.3 220.5,478.0 225.9,477.9 231.3,478.9 236.7,479.0 242.8,479.4 248.2,479.9 253.8,481.6 259.5,482.9 265.2,484.3 270.7,486.0 276.4,486.6 282.0,487.8 287.6,488.5 293.3,489.5 299.0,490.8 304.6,492.3 310.3,492.8 316.0,493.7 321.5,494.4 327.2,495.4 332.9,496.4 338.3,497.0 344.1,497.4 349.5,497.9 355.0,498.4 360.6,498.7 366.2,498.7 371.9,499.4 377.4,500.0 382.9,500.1 388.5,500.2 394.2,499.9 399.8,497.4 405.5,496.1 410.9,494.5 416.6,493.1 422.1,491.9 427.8,490.7 433.0,488.2 438.6,487.0 444.0,485.1 449.7,482.6 455.3,482.3 461.0,481.8 466.7,481.5 472.2,481.4 477.9,480.7 483.3,479.5 489.2,479.7 494.8,478.1 500.5,477.5 506.1,477.6 511.5,478.0 516.9,478.1 522.7,478.8 528.4,478.3 534.1,478.3 539.7,478.6 545.4,478.6 551.0,478.6 556.5,478.6 562.0,479.3 567.7,478.8 573.1,478.4 578.8,477.3 584.6,477.4 590.0,476.4 595.7,475.5 601.3,475.1 607.0,475.3 612.4,474.9 618.0,474.4 623.9,474.8 629.3,474.8 634.7,472.9 640.4,471.7 646.0,471.3 651.0,471.4 656.7,470.8 662.4,469.6 668.0,469.1 673.2,468.7 678.9,465.2 684.6,460.8 690.2,460.2 695.9,457.1 701.6,456.0 707.0,453.8 712.9,450.8 718.3,447.7 724.0,441.5 729.6,439.1 735.3,439.4 741.0,441.6 746.7,439.9 752.3,440.6 758.1,438.6 763.8,440.0 769.4,443.2 775.0,445.4 780.7,450.5 786.4,450.8" fill="none" stroke="#8c3090" stroke-width="1"/>
<polyline points="24.1,497.0 29.8,494.3 35.5,493.6 41.0,493.1 46.7,493.3 52.4,492.5 58.0,493.8 63.6,493.1 69.0,487.7 74.9,483.4 80.6,481.7 86.3,478.1 91.8,476.0 97.2,476.7 102.9,476.7 108.3,474.0 114.1,472.6 119.8,471.0 125.5,470.4 131.1,470.7 136.8,472.4 142.2,471.5 148.0,471.6 153.4,472.9 159.1,473.1 164.7,473.1 170.4,476.0 175.8,477.5 181.6,478.9 187.0,479.6 192.7,479.2 198.1,478.1 204.0,477.0 209.6,475.8 215.0,474.9 220.5,476.8 225.9,477.7 231.3,480.7 236.7,482.2 242.8,483.8 248.2,483.1 253.8,485.4 259.5,485.1 265.2,486.5 270.7,488.1 276.4,490.1 282.0,490.1 287.6,491.9 293.3,492.5 299.0,493.5 304.6,494.5 310.3,495.5 316.0,495.5 321.5,496.3 327.2,497.4 332.9,498.3 338.3,498.5 344.1,499.3 349.5,499.4 355.0,499.4 360.6,499.1 366.2,499.0 371.9,499.5 377.4,500.6 382.9,500.7 388.5,501.3 394.2,500.9 399.8,495.3 405.5,491.6 410.9,488.2 416.6,484.8 422.1,483.0 427.8,486.0 433.0,484.8 438.6,485.8 444.0,485.4 449.7,482.1 455.3,478.6 461.0,478.8 466.7,477.1 472.2,477.3 477.9,479.3 483.3,480.4 489.2,480.5 494.8,479.2 500.5,477.8 506.1,475.9 511.5,475.6 516.9,475.7 522.7,478.3 528.4,478.9 534.1,480.7 539.7,481.7 545.4,481.6 551.0,479.0 556.5,478.3 562.0,477.8 567.7,475.8 573.1,475.2 578.8,475.7 584.6,476.6 590.0,474.9 595.7,475.1 601.3,475.0 607.0,474.9 612.4,473.3 618.0,473.8 623.9,474.4 629.3,474.6 634.7,470.9 640.4,470.1 646.0,468.7 651.0,468.4 656.7,467.0 662.4,468.4 668.0,468.0 673.2,468.7 678.9,462.1 684.6,454.5 690.2,452.1 695.9,446.2 701.6,443.3 707.0,445.6 712.9,447.0 718.3,443.4 724.0,436.8 729.6,434.9 735.3,433.3 741.0,436.3 746.7,436.5 752.3,444.3 758.1,442.2 763.8,446.7 769.4,450.1 775.0,454.2 780.7,456.7 786.4,459.3" fill="none" stroke="#e8d8b8" stroke-width="1"/>
<rect x="123.7" y="182.4" width="825.3" height="4.6" fill="#f4f400"/>
<polygon points="788.8,142.0 811.2,176.2 808.1,178.4 820.5,185.5 817.9,171.4 814.8,173.6 790.2,141.0" fill="#8ccc1a"/>
<polygon points="820.3,182.3 854.7,136.2 851.2,133.6 864.5,126 860.8,140.8 857.3,138.2 822.3,183.7" fill="#e83838"/>
<polyline points="787,197 820,186.5 828,183.8" fill="none" stroke="#9cc83c" stroke-width="1.6"/>
<polygon points="834.5,182 825,180 826.5,186.5" fill="#9cc83c"/>
<polyline points="716.6,28.4 713.6,30.1 716.2,32.0" fill="none" stroke="#c8c8c8" stroke-width="0.9"/>
<line x1="713.8" y1="30.2" x2="721" y2="32.6" stroke="#c8c8c8" stroke-width="0.9"/>
<text x="723" y="37" font-size="9.5" fill="#c8c8c8" textLength="31" lengthAdjust="spacingAndGlyphs">1726.19</text>
<line x1="0.5" y1="376.3" x2="9" y2="376.3" stroke="#c8c8c8" stroke-width="0.9"/>
<polyline points="3.5,373.6 0.8,376.3 3.5,379" fill="none" stroke="#c8c8c8" stroke-width="0.9"/>
<text x="10.5" y="380" font-size="9.5" fill="#c8c8c8" textLength="32" lengthAdjust="spacingAndGlyphs">1000.00</text>
<rect x="0" y="0" width="1280" height="1" fill="#2f4444"/>
<rect x="0" y="13.4" width="1116" height="2" fill="#4c0e1a"/>
<rect x="1080.1" y="15" width="1" height="502" fill="#62323c"/>
<rect x="0" y="390.9" width="1115" height="1" fill="#74404c"/>
<rect x="1115" y="0" width="1.2" height="517" fill="#6a1a22"/>
<rect x="895.0" y="1" width="1" height="13" fill="#5a1420"/>
<rect x="918.4" y="1" width="1" height="13" fill="#5a1420"/>
<rect x="941.9" y="1" width="1" height="13" fill="#5a1420"/>
<rect x="967.2" y="1" width="1" height="13" fill="#5a1420"/>
<rect x="991.6" y="1" width="1" height="13" fill="#5a1420"/>
<rect x="1016.0" y="1" width="1" height="13" fill="#5a1420"/>
<rect x="1041.3" y="1" width="1" height="13" fill="#5a1420"/>
<rect x="1065.6" y="1" width="1" height="13" fill="#5a1420"/>
<rect x="1090.2" y="1" width="1" height="13" fill="#5a1420"/>
<g stroke="#5e161e" stroke-width="1">
<line x1="1081" y1="42.5" x2="1085" y2="42.5"/>
<line x1="1081" y1="66.3" x2="1085" y2="66.3"/>
<line x1="1081" y1="90.1" x2="1085" y2="90.1"/>
<line x1="1081" y1="114.0" x2="1085" y2="114.0"/>
<line x1="1081" y1="137.8" x2="1085" y2="137.8"/>
<line x1="1081" y1="161.6" x2="1085" y2="161.6"/>
<line x1="1081" y1="185.4" x2="1085" y2="185.4"/>
<line x1="1081" y1="209.2" x2="1085" y2="209.2"/>
<line x1="1081" y1="233.1" x2="1085" y2="233.1"/>
<line x1="1081" y1="256.9" x2="1085" y2="256.9"/>
<line x1="1081" y1="280.7" x2="1085" y2="280.7"/>
<line x1="1081" y1="304.5" x2="1085" y2="304.5"/>
<line x1="1081" y1="328.3" x2="1085" y2="328.3"/>
<line x1="1081" y1="352.2" x2="1085" y2="352.2"/>
<line x1="1081" y1="376.0" x2="1085" y2="376.0"/>
<line x1="1081" y1="436.2" x2="1085" y2="436.2"/>
<line x1="1081" y1="455.8" x2="1085" y2="455.8"/>
<line x1="1081" y1="475.4" x2="1085" y2="475.4"/>
</g>
<rect x="1116" y="43.5" width="164" height="1" fill="#5e2a32"/>
<rect x="1116" y="59.5" width="164" height="1" fill="#5e2a32"/>
<rect x="1116" y="141.8" width="164" height="1" fill="#5e2a32"/>
<rect x="1116" y="263.8" width="164" height="1" fill="#5e2a32"/>
<rect x="1116" y="279.7" width="164" height="1" fill="#5e2a32"/>
<text x="1112.5" y="46.0" font-size="9.5" fill="#b45868" textLength="19.5" lengthAdjust="spacingAndGlyphs" text-anchor="end">1700</text>
<text x="1112.5" y="69.82" font-size="9.5" fill="#b45868" textLength="19.5" lengthAdjust="spacingAndGlyphs" text-anchor="end">1650</text>
<text x="1112.5" y="93.64" font-size="9.5" fill="#b45868" textLength="19.5" lengthAdjust="spacingAndGlyphs" text-anchor="end">1600</text>
<text x="1112.5" y="117.46000000000001" font-size="9.5" fill="#b45868" textLength="19.5" lengthAdjust="spacingAndGlyphs" text-anchor="end">1550</text>
<text x="1112.5" y="141.28" font-size="9.5" fill="#b45868" textLength="19.5" lengthAdjust="spacingAndGlyphs" text-anchor="end">1500</text>
<text x="1112.5" y="165.1" font-size="9.5" fill="#b45868" textLength="19.5" lengthAdjust="spacingAndGlyphs" text-anchor="end">1450</text>
<text x="1112.5" y="188.92000000000002" font-size="9.5" fill="#b45868" textLength="19.5" lengthAdjust="spacingAndGlyphs" text-anchor="end">1400</text>
<text x="1112.5" y="212.74" font-size="9.5" fill="#b45868" textLength="19.5" lengthAdjust="spacingAndGlyphs" text-anchor="end">1350</text>
<text x="1112.5" y="236.56" font-size="9.5" fill="#b45868" textLength="19.5" lengthAdjust="spacingAndGlyphs" text-anchor="end">1300</text>
<text x="1112.5" y="260.38" font-size="9.5" fill="#b45868" textLength="19.5" lengthAdjust="spacingAndGlyphs" text-anchor="end">1250</text>
<text x="1112.5" y="284.2" font-size="9.5" fill="#b45868" textLength="19.5" lengthAdjust="spacingAndGlyphs" text-anchor="end">1200</text>
<text x="1112.5" y="308.02" font-size="9.5" fill="#b45868" textLength="19.5" lengthAdjust="spacingAndGlyphs" text-anchor="end">1150</text>
<text x="1112.5" y="331.84000000000003" font-size="9.5" fill="#b45868" textLength="19.5" lengthAdjust="spacingAndGlyphs" text-anchor="end">1100</text>
<text x="1112.5" y="355.66" font-size="9.5" fill="#b45868" textLength="19.5" lengthAdjust="spacingAndGlyphs" text-anchor="end">1050</text>
<text x="1112.5" y="379.48" font-size="9.5" fill="#b45868" textLength="19.5" lengthAdjust="spacingAndGlyphs" text-anchor="end">1000</text>
<text x="1112" y="439.6" font-size="9.5" fill="#b45868" textLength="24" lengthAdjust="spacingAndGlyphs" text-anchor="end">10000</text>
<text x="1112" y="459.6" font-size="9.5" fill="#b45868" textLength="19.5" lengthAdjust="spacingAndGlyphs" text-anchor="end">7500</text>
<text x="1112" y="479" font-size="9.5" fill="#b45868" textLength="19.5" lengthAdjust="spacingAndGlyphs" text-anchor="end">5000</text>
<rect x="1081" y="507.5" width="28" height="10" fill="none" stroke="#8a1e26" stroke-width="1"/>
<text x="1083" y="516" font-size="9.5" fill="#b04450" textLength="24.5" lengthAdjust="spacingAndGlyphs">X1000</text>
<polygon points="1060.5,17.8 1063.8,21 1060.5,24.2 1057.2,21" fill="none" stroke="#8c8c8c" stroke-width="0.9"/>
<rect x="1069.3" y="18.5" width="8.6" height="7" fill="none" stroke="#9a9a9a" stroke-width="1"/>
<rect x="1074.6" y="20" width="1.4" height="4.2" fill="#b0b0b0"/>
<rect x="3" y="3.5" width="9" height="8" rx="1" fill="none" stroke="#6a7a74" stroke-width="1"/>
<rect x="5.5" y="5.5" width="4" height="4" fill="none" stroke="#8a9a94" stroke-width="1"/>
<text x="18.0" y="11.5" font-size="9.5" fill="#c8c8c8" textLength="18.0" lengthAdjust="spacingAndGlyphs">分时</text>
<text x="41.7" y="11.5" font-size="9.5" fill="#c8c8c8" textLength="22.400000000000002" lengthAdjust="spacingAndGlyphs">1分钟</text>
<text x="69.2" y="11.5" font-size="9.5" fill="#c8c8c8" textLength="22.400000000000002" lengthAdjust="spacingAndGlyphs">5分钟</text>
<text x="96.7" y="11.5" font-size="9.5" fill="#c8c8c8" textLength="27.3" lengthAdjust="spacingAndGlyphs">15分钟</text>
<text x="128.6" y="11.5" font-size="9.5" fill="#c8c8c8" textLength="27.400000000000002" lengthAdjust="spacingAndGlyphs">30分钟</text>
<text x="161.1" y="11.5" font-size="9.5" fill="#c8c8c8" textLength="27.400000000000002" lengthAdjust="spacingAndGlyphs">60分钟</text>
<text x="193.6" y="11.5" font-size="9.5" fill="#a8e8e0" textLength="18.400000000000002" lengthAdjust="spacingAndGlyphs">日线</text>
<text x="217.89999999999998" y="11.5" font-size="9.5" fill="#c8c8c8" textLength="18.1" lengthAdjust="spacingAndGlyphs">周线</text>
<text x="241.1" y="11.5" font-size="9.5" fill="#c8c8c8" textLength="18.6" lengthAdjust="spacingAndGlyphs">月线</text>
<text x="264.2" y="11.5" font-size="9.5" fill="#c8c8c8" textLength="26.8" lengthAdjust="spacingAndGlyphs">多周期</text>
<text x="295.0" y="11.5" font-size="9.5" fill="#c8c8c8" textLength="17.8" lengthAdjust="spacingAndGlyphs">更多</text>
<polyline points="317,5.5 319.5,8 317,10.5" fill="none" stroke="#c8c8c8" stroke-width="0.9"/>
<text x="896.7" y="11.5" font-size="9.5" fill="#c8c8c8" textLength="19.3" lengthAdjust="spacingAndGlyphs">指标</text>
<text x="919.7" y="11.5" font-size="9.5" fill="#c8c8c8" textLength="19.3" lengthAdjust="spacingAndGlyphs">叠加</text>
<text x="943.5" y="11.5" font-size="9.5" fill="#c8c8c8" textLength="20.8" lengthAdjust="spacingAndGlyphs">历史</text>
<text x="969.2" y="11.5" font-size="9.5" fill="#c8c8c8" textLength="19.8" lengthAdjust="spacingAndGlyphs">统计</text>
<text x="993.7" y="11.5" font-size="9.5" fill="#c8c8c8" textLength="20.3" lengthAdjust="spacingAndGlyphs">画线</text>
<text x="1020.2" y="11.5" font-size="9.5" fill="#c8c8c8" textLength="16.8" lengthAdjust="spacingAndGlyphs">F10</text>
<text x="1043.2" y="11.5" font-size="9.5" fill="#c8c8c8" textLength="19.8" lengthAdjust="spacingAndGlyphs">标记</text>
<text x="1066.7" y="11.5" font-size="9.5" fill="#c8c8c8" textLength="22.3" lengthAdjust="spacingAndGlyphs">+自选</text>
<text x="1091.7" y="11.5" font-size="9.5" fill="#c8c8c8" textLength="21.3" lengthAdjust="spacingAndGlyphs">返回</text>
<text x="0.8" y="24.8" font-size="9.5" fill="#d0d0d0" textLength="50.5" lengthAdjust="spacingAndGlyphs">科创50(日线)</text>
<circle cx="59" cy="21.5" r="3.8" fill="#8a8a8a"/>
<polyline points="56.8,20.8 59,23 61.2,20.8" fill="none" stroke="#222" stroke-width="1"/>
<text x="66.2" y="24.8" font-size="9.5" fill="#d8d8d8" textLength="55.7" lengthAdjust="spacingAndGlyphs">MA14: 1485.32</text>
<text x="126.2" y="24.8" font-size="9.5" fill="#d8d8a8" textLength="31.3" lengthAdjust="spacingAndGlyphs">MA888: -</text>
<text x="162.5" y="24.8" font-size="9.5" fill="#b040c0" textLength="56.3" lengthAdjust="spacingAndGlyphs">MA99: 1272.09</text>
<text x="223.8" y="24.8" font-size="9.5" fill="#40b040" textLength="56.2" lengthAdjust="spacingAndGlyphs">MA60: 1375.08</text>
<circle cx="4.5" cy="397.2" r="3.8" fill="#8a8a8a"/>
<polyline points="2.3,396.5 4.5,398.7 6.7,396.5" fill="none" stroke="#222" stroke-width="1"/>
<text x="12.5" y="399.9" font-size="9.5" fill="#c8c8c8" textLength="56.3" lengthAdjust="spacingAndGlyphs">VOL-TDX(5,10)</text>
<text x="73" y="399.9" font-size="9.5" fill="#c8c8c8" textLength="71" lengthAdjust="spacingAndGlyphs">VVOL: 8554323.00</text>
<text x="151.2" y="399.9" font-size="9.5" fill="#d0d0a8" textLength="84.3" lengthAdjust="spacingAndGlyphs">VOLUME: 8554323.00</text>
<text x="240.5" y="399.9" font-size="9.5" fill="#d8d8a0" textLength="66" lengthAdjust="spacingAndGlyphs">MA5: 6987132.00</text>
<text x="310.6" y="399.9" font-size="9.5" fill="#c040c8" textLength="71" lengthAdjust="spacingAndGlyphs">MA10: 8070012.00</text>
<text x="1141.2" y="14.8" font-size="13" fill="#e8e850" textLength="42.5" lengthAdjust="spacingAndGlyphs" font-weight="bold">科创50</text>
<text x="1188" y="14.6" font-size="9.5" fill="#c8c8c8" textLength="32.6" lengthAdjust="spacingAndGlyphs" font-weight="bold">000688</text>
<text x="1119.3" y="35.9" font-size="14" fill="#f04450" textLength="48.5" lengthAdjust="spacingAndGlyphs" font-weight="bold">1512.98</text>
<text x="1179" y="35.9" font-size="14" fill="#f04450" textLength="45.2" lengthAdjust="spacingAndGlyphs" font-weight="bold">▲40.19</text>
<text x="1238.8" y="35.9" font-size="14" fill="#f04450" textLength="37.9" lengthAdjust="spacingAndGlyphs" font-weight="bold">2.73%</text>
<text x="1118" y="57.6" font-size="12" fill="#c0c0c0" textLength="44" lengthAdjust="spacingAndGlyphs">沪总市值</text>
<text x="1233.5" y="57.0" font-size="11" fill="#e0e0e0" textLength="33.5" lengthAdjust="spacingAndGlyphs" font-weight="bold">417310</text>
<text x="1267" y="57.6" font-size="12" fill="#c0c0c0" textLength="11.7" lengthAdjust="spacingAndGlyphs">亿</text>
<text x="1118.5" y="73.7" font-size="11.5" fill="#c0c0c0" textLength="7" lengthAdjust="spacingAndGlyphs">A</text>
<text x="1129" y="73.89999999999999" font-size="12" fill="#c0c0c0" textLength="33" lengthAdjust="spacingAndGlyphs">股成交</text>
<text x="1231" y="73.3" font-size="11" fill="#d8d890" textLength="35" lengthAdjust="spacingAndGlyphs" font-weight="bold">4956.35</text>
<text x="1267" y="73.89999999999999" font-size="12" fill="#c0c0c0" textLength="11.7" lengthAdjust="spacingAndGlyphs">亿</text>
<text x="1120" y="86.10000000000001" font-size="11.5" fill="#c0c0c0" textLength="6" lengthAdjust="spacingAndGlyphs">B</text>
<text x="1129" y="86.3" font-size="12" fill="#c0c0c0" textLength="33" lengthAdjust="spacingAndGlyphs">股成交</text>
<text x="1248" y="85.7" font-size="11" fill="#d8d890" textLength="18" lengthAdjust="spacingAndGlyphs" font-weight="bold">1.43</text>
<text x="1267" y="86.3" font-size="12" fill="#c0c0c0" textLength="11.7" lengthAdjust="spacingAndGlyphs">亿</text>
<text x="1118" y="99.39999999999999" font-size="12" fill="#c0c0c0" textLength="44" lengthAdjust="spacingAndGlyphs">国债成交</text>
<text x="1230" y="98.8" font-size="11" fill="#d8d890" textLength="36" lengthAdjust="spacingAndGlyphs" font-weight="bold">9777.85</text>
<text x="1267" y="99.39999999999999" font-size="12" fill="#c0c0c0" textLength="11.7" lengthAdjust="spacingAndGlyphs">亿</text>
<text x="1118" y="112.49999999999999" font-size="12" fill="#c0c0c0" textLength="44" lengthAdjust="spacingAndGlyphs">基金成交</text>
<text x="1236" y="111.89999999999999" font-size="11" fill="#d8d890" textLength="30" lengthAdjust="spacingAndGlyphs" font-weight="bold">610.94</text>
<text x="1267" y="112.49999999999999" font-size="12" fill="#c0c0c0" textLength="11.7" lengthAdjust="spacingAndGlyphs">亿</text>
<text x="1118" y="125.69999999999999" font-size="12" fill="#c0c0c0" textLength="44" lengthAdjust="spacingAndGlyphs">权证成交</text>
<text x="1118" y="138.9" font-size="12" fill="#c0c0c0" textLength="44" lengthAdjust="spacingAndGlyphs">债券成交</text>
<text x="1236" y="138.3" font-size="11" fill="#d8d890" textLength="30" lengthAdjust="spacingAndGlyphs" font-weight="bold">176.89</text>
<text x="1267" y="138.9" font-size="12" fill="#c0c0c0" textLength="11.7" lengthAdjust="spacingAndGlyphs">亿</text>
<text x="1118" y="154.8" font-size="12" fill="#c0c0c0" textLength="44" lengthAdjust="spacingAndGlyphs">今日开盘</text>
<text x="1277.1" y="154.20000000000002" font-size="11" fill="#50d050" textLength="35.2" lengthAdjust="spacingAndGlyphs" font-weight="bold" text-anchor="end">1469.10</text>
<text x="1118" y="167.8" font-size="12" fill="#c0c0c0" textLength="44" lengthAdjust="spacingAndGlyphs">昨日收盘</text>
<text x="1277.1" y="167.20000000000002" font-size="11" fill="#e0e0e0" textLength="35.2" lengthAdjust="spacingAndGlyphs" font-weight="bold" text-anchor="end">1472.79</text>
<text x="1118" y="180.9" font-size="12" fill="#c0c0c0" textLength="44" lengthAdjust="spacingAndGlyphs">指数振幅</text>
<text x="1277.1" y="180.3" font-size="11" fill="#e0e0e0" textLength="54.8" lengthAdjust="spacingAndGlyphs" font-weight="bold" text-anchor="end">45.98/3.12%</text>
<text x="1118" y="194.70000000000002" font-size="12" fill="#c0c0c0" textLength="44" lengthAdjust="spacingAndGlyphs">总成交额</text>
<text x="1265.5" y="194.70000000000002" font-size="12" fill="#d8d890" textLength="11.7" lengthAdjust="spacingAndGlyphs">亿</text>
<text x="1235.3" y="194.10000000000002" font-size="11" fill="#d8d890" textLength="30" lengthAdjust="spacingAndGlyphs" font-weight="bold">592.72</text>
<text x="1118" y="208.3" font-size="12" fill="#c0c0c0" textLength="44" lengthAdjust="spacingAndGlyphs">总成交量</text>
<text x="1277.1" y="207.70000000000002" font-size="11" fill="#d8d890" textLength="38.6" lengthAdjust="spacingAndGlyphs" font-weight="bold" text-anchor="end">8554323</text>
<text x="1118" y="221.9" font-size="12" fill="#c0c0c0" textLength="44" lengthAdjust="spacingAndGlyphs">最高指数</text>
<text x="1277.1" y="221.3" font-size="11" fill="#e84050" textLength="35.2" lengthAdjust="spacingAndGlyphs" font-weight="bold" text-anchor="end">1513.76</text>
<text x="1118" y="234.9" font-size="12" fill="#c0c0c0" textLength="44" lengthAdjust="spacingAndGlyphs">最低指数</text>
<text x="1277.1" y="234.3" font-size="11" fill="#50d050" textLength="35.2" lengthAdjust="spacingAndGlyphs" font-weight="bold" text-anchor="end">1467.78</text>
<text x="1118" y="248.0" font-size="12" fill="#c0c0c0" textLength="44" lengthAdjust="spacingAndGlyphs">指数量比</text>
<text x="1277.1" y="247.4" font-size="11" fill="#e84050" textLength="18.3" lengthAdjust="spacingAndGlyphs" font-weight="bold" text-anchor="end">1.17</text>
<text x="1118" y="261.0" font-size="12" fill="#c0c0c0" textLength="44" lengthAdjust="spacingAndGlyphs">上证换手</text>
<text x="1277.1" y="260.4" font-size="11" fill="#e0e0e0" textLength="26.1" lengthAdjust="spacingAndGlyphs" font-weight="bold" text-anchor="end">0.97%</text>
<text x="1118" y="277.7" font-size="12" fill="#c0c0c0" textLength="32" lengthAdjust="spacingAndGlyphs">涨家数</text>
<text x="1180.4" y="277.2" font-size="11" fill="#e84050" textLength="16" lengthAdjust="spacingAndGlyphs" font-weight="bold">109</text>
<text x="1200.3" y="277.7" font-size="12" fill="#c0c0c0" textLength="32" lengthAdjust="spacingAndGlyphs">跌家数</text>
<text x="1279" y="277.2" font-size="11" fill="#50d050" textLength="11" lengthAdjust="spacingAndGlyphs" font-weight="bold" text-anchor="end">34</text>
<text x="1117.5" y="292.7" font-size="11" fill="#e0e0e0" textLength="24.5" lengthAdjust="spacingAndGlyphs" font-weight="bold">14:54</text>
<text x="1174" y="292.7" font-size="11" fill="#d83446" textLength="35" lengthAdjust="spacingAndGlyphs" font-weight="bold">1512.45</text>
<text x="1244" y="292.7" font-size="11" fill="#d8d890" textLength="21" lengthAdjust="spacingAndGlyphs" font-weight="bold">2358</text>
<text x="1265.3" y="293.3" font-size="12" fill="#c0c0c0" textLength="11.7" lengthAdjust="spacingAndGlyphs">万</text>
<text x="1117.5" y="305.36" font-size="11" fill="#e0e0e0" textLength="24.5" lengthAdjust="spacingAndGlyphs" font-weight="bold">14:55</text>
<text x="1174" y="305.36" font-size="11" fill="#d83446" textLength="35" lengthAdjust="spacingAndGlyphs" font-weight="bold">1512.92</text>
<text x="1244" y="305.36" font-size="11" fill="#d8d890" textLength="21" lengthAdjust="spacingAndGlyphs" font-weight="bold">3754</text>
<text x="1265.3" y="305.96000000000004" font-size="12" fill="#c0c0c0" textLength="11.7" lengthAdjust="spacingAndGlyphs">万</text>
<text x="1117.5" y="318.02" font-size="11" fill="#e0e0e0" textLength="24.5" lengthAdjust="spacingAndGlyphs" font-weight="bold">14:55</text>
<text x="1174" y="318.02" font-size="11" fill="#d83446" textLength="35" lengthAdjust="spacingAndGlyphs" font-weight="bold">1512.65</text>
<text x="1244" y="318.02" font-size="11" fill="#d8d890" textLength="21" lengthAdjust="spacingAndGlyphs" font-weight="bold">3405</text>
<text x="1265.3" y="318.62" font-size="12" fill="#c0c0c0" textLength="11.7" lengthAdjust="spacingAndGlyphs">万</text>
<text x="1117.5" y="330.68" font-size="11" fill="#e0e0e0" textLength="24.5" lengthAdjust="spacingAndGlyphs" font-weight="bold">14:55</text>
<text x="1174" y="330.68" font-size="11" fill="#d83446" textLength="35" lengthAdjust="spacingAndGlyphs" font-weight="bold">1512.95</text>
<text x="1244" y="330.68" font-size="11" fill="#d8d890" textLength="21" lengthAdjust="spacingAndGlyphs" font-weight="bold">4159</text>
<text x="1265.3" y="331.28000000000003" font-size="12" fill="#c0c0c0" textLength="11.7" lengthAdjust="spacingAndGlyphs">万</text>
<text x="1117.5" y="343.34" font-size="11" fill="#e0e0e0" textLength="24.5" lengthAdjust="spacingAndGlyphs" font-weight="bold">14:55</text>
<text x="1174" y="343.34" font-size="11" fill="#d83446" textLength="35" lengthAdjust="spacingAndGlyphs" font-weight="bold">1512.37</text>
<text x="1244" y="343.34" font-size="11" fill="#d8d890" textLength="21" lengthAdjust="spacingAndGlyphs" font-weight="bold">3193</text>
<text x="1265.3" y="343.94" font-size="12" fill="#c0c0c0" textLength="11.7" lengthAdjust="spacingAndGlyphs">万</text>
<text x="1117.5" y="356.0" font-size="11" fill="#e0e0e0" textLength="24.5" lengthAdjust="spacingAndGlyphs" font-weight="bold">14:55</text>
<text x="1174" y="356.0" font-size="11" fill="#d83446" textLength="35" lengthAdjust="spacingAndGlyphs" font-weight="bold">1512.62</text>
<text x="1244" y="356.0" font-size="11" fill="#d8d890" textLength="21" lengthAdjust="spacingAndGlyphs" font-weight="bold">3706</text>
<text x="1265.3" y="356.6" font-size="12" fill="#c0c0c0" textLength="11.7" lengthAdjust="spacingAndGlyphs">万</text>
<text x="1117.5" y="368.65999999999997" font-size="11" fill="#e0e0e0" textLength="24.5" lengthAdjust="spacingAndGlyphs" font-weight="bold">14:55</text>
<text x="1174" y="368.65999999999997" font-size="11" fill="#d83446" textLength="35" lengthAdjust="spacingAndGlyphs" font-weight="bold">1512.19</text>
<text x="1244" y="368.65999999999997" font-size="11" fill="#d8d890" textLength="21" lengthAdjust="spacingAndGlyphs" font-weight="bold">4081</text>
<text x="1265.3" y="369.26" font-size="12" fill="#c0c0c0" textLength="11.7" lengthAdjust="spacingAndGlyphs">万</text>
<text x="1117.5" y="381.32" font-size="11" fill="#e0e0e0" textLength="24.5" lengthAdjust="spacingAndGlyphs" font-weight="bold">14:55</text>
<text x="1174" y="381.32" font-size="11" fill="#d83446" textLength="35" lengthAdjust="spacingAndGlyphs" font-weight="bold">1512.25</text>
<text x="1244" y="381.32" font-size="11" fill="#d8d890" textLength="21" lengthAdjust="spacingAndGlyphs" font-weight="bold">3491</text>
<text x="1265.3" y="381.92" font-size="12" fill="#c0c0c0" textLength="11.7" lengthAdjust="spacingAndGlyphs">万</text>
<text x="1117.5" y="393.98" font-size="11" fill="#e0e0e0" textLength="24.5" lengthAdjust="spacingAndGlyphs" font-weight="bold">14:55</text>
<text x="1174" y="393.98" font-size="11" fill="#d83446" textLength="35" lengthAdjust="spacingAndGlyphs" font-weight="bold">1512.20</text>
<text x="1244" y="393.98" font-size="11" fill="#d8d890" textLength="21" lengthAdjust="spacingAndGlyphs" font-weight="bold">2779</text>
<text x="1265.3" y="394.58000000000004" font-size="12" fill="#c0c0c0" textLength="11.7" lengthAdjust="spacingAndGlyphs">万</text>
<text x="1117.5" y="406.64" font-size="11" fill="#e0e0e0" textLength="24.5" lengthAdjust="spacingAndGlyphs" font-weight="bold">14:55</text>
<text x="1174" y="406.64" font-size="11" fill="#d83446" textLength="35" lengthAdjust="spacingAndGlyphs" font-weight="bold">1511.93</text>
<text x="1244" y="406.64" font-size="11" fill="#d8d890" textLength="21" lengthAdjust="spacingAndGlyphs" font-weight="bold">3486</text>
<text x="1265.3" y="407.24" font-size="12" fill="#c0c0c0" textLength="11.7" lengthAdjust="spacingAndGlyphs">万</text>
<text x="1117.5" y="419.29999999999995" font-size="11" fill="#e0e0e0" textLength="24.5" lengthAdjust="spacingAndGlyphs" font-weight="bold">14:55</text>
<text x="1174" y="419.29999999999995" font-size="11" fill="#d83446" textLength="35" lengthAdjust="spacingAndGlyphs" font-weight="bold">1511.75</text>
<text x="1244" y="419.29999999999995" font-size="11" fill="#d8d890" textLength="21" lengthAdjust="spacingAndGlyphs" font-weight="bold">3422</text>
<text x="1265.3" y="419.9" font-size="12" fill="#c0c0c0" textLength="11.7" lengthAdjust="spacingAndGlyphs">万</text>
<text x="1117.5" y="431.96" font-size="11" fill="#e0e0e0" textLength="24.5" lengthAdjust="spacingAndGlyphs" font-weight="bold">14:55</text>
<text x="1174" y="431.96" font-size="11" fill="#d83446" textLength="35" lengthAdjust="spacingAndGlyphs" font-weight="bold">1511.71</text>
<text x="1244" y="431.96" font-size="11" fill="#d8d890" textLength="21" lengthAdjust="spacingAndGlyphs" font-weight="bold">2970</text>
<text x="1265.3" y="432.56" font-size="12" fill="#c0c0c0" textLength="11.7" lengthAdjust="spacingAndGlyphs">万</text>
<text x="1117.5" y="444.62" font-size="11" fill="#e0e0e0" textLength="24.5" lengthAdjust="spacingAndGlyphs" font-weight="bold">14:55</text>
<text x="1174" y="444.62" font-size="11" fill="#d83446" textLength="35" lengthAdjust="spacingAndGlyphs" font-weight="bold">1511.53</text>
<text x="1244" y="444.62" font-size="11" fill="#d8d890" textLength="21" lengthAdjust="spacingAndGlyphs" font-weight="bold">1810</text>
<text x="1265.3" y="445.22" font-size="12" fill="#c0c0c0" textLength="11.7" lengthAdjust="spacingAndGlyphs">万</text>
<text x="1117.5" y="457.28" font-size="11" fill="#e0e0e0" textLength="24.5" lengthAdjust="spacingAndGlyphs" font-weight="bold">14:56</text>
<text x="1174" y="457.28" font-size="11" fill="#d83446" textLength="35" lengthAdjust="spacingAndGlyphs" font-weight="bold">1512.17</text>
<text x="1244" y="457.28" font-size="11" fill="#d8d890" textLength="21" lengthAdjust="spacingAndGlyphs" font-weight="bold">2612</text>
<text x="1265.3" y="457.88" font-size="12" fill="#c0c0c0" textLength="11.7" lengthAdjust="spacingAndGlyphs">万</text>
<text x="1117.5" y="469.94" font-size="11" fill="#e0e0e0" textLength="24.5" lengthAdjust="spacingAndGlyphs" font-weight="bold">14:56</text>
<text x="1174" y="469.94" font-size="11" fill="#d83446" textLength="35" lengthAdjust="spacingAndGlyphs" font-weight="bold">1512.41</text>
<text x="1244" y="469.94" font-size="11" fill="#d8d890" textLength="21" lengthAdjust="spacingAndGlyphs" font-weight="bold">3332</text>
<text x="1265.3" y="470.54" font-size="12" fill="#c0c0c0" textLength="11.7" lengthAdjust="spacingAndGlyphs">万</text>
<text x="1117.5" y="482.6" font-size="11" fill="#e0e0e0" textLength="24.5" lengthAdjust="spacingAndGlyphs" font-weight="bold">14:56</text>
<text x="1174" y="482.6" font-size="11" fill="#d83446" textLength="35" lengthAdjust="spacingAndGlyphs" font-weight="bold">1512.21</text>
<text x="1244" y="482.6" font-size="11" fill="#d8d890" textLength="21" lengthAdjust="spacingAndGlyphs" font-weight="bold">3878</text>
<text x="1265.3" y="483.20000000000005" font-size="12" fill="#c0c0c0" textLength="11.7" lengthAdjust="spacingAndGlyphs">万</text>
<text x="1117.5" y="495.26" font-size="11" fill="#e0e0e0" textLength="24.5" lengthAdjust="spacingAndGlyphs" font-weight="bold">14:56</text>
<text x="1174" y="495.26" font-size="11" fill="#d83446" textLength="35" lengthAdjust="spacingAndGlyphs" font-weight="bold">1511.85</text>
<text x="1244" y="495.26" font-size="11" fill="#d8d890" textLength="21" lengthAdjust="spacingAndGlyphs" font-weight="bold">4111</text>
<text x="1265.3" y="495.86" font-size="12" fill="#c0c0c0" textLength="11.7" lengthAdjust="spacingAndGlyphs">万</text>
<text x="1117.5" y="507.91999999999996" font-size="11" fill="#e0e0e0" textLength="24.5" lengthAdjust="spacingAndGlyphs" font-weight="bold">14:56</text>
<text x="1174" y="507.91999999999996" font-size="11" fill="#d83446" textLength="35" lengthAdjust="spacingAndGlyphs" font-weight="bold">1511.88</text>
<text x="1244" y="507.91999999999996" font-size="11" fill="#d8d890" textLength="21" lengthAdjust="spacingAndGlyphs" font-weight="bold">3474</text>
<text x="1265.3" y="508.52" font-size="12" fill="#c0c0c0" textLength="11.7" lengthAdjust="spacingAndGlyphs">万</text>
<text x="1117.5" y="520.5799999999999" font-size="11" fill="#e0e0e0" textLength="24.5" lengthAdjust="spacingAndGlyphs" font-weight="bold">14:56</text>
<text x="1174" y="520.5799999999999" font-size="11" fill="#d83446" textLength="35" lengthAdjust="spacingAndGlyphs" font-weight="bold">1511.68</text>
<text x="1244" y="520.5799999999999" font-size="11" fill="#d8d890" textLength="21" lengthAdjust="spacingAndGlyphs" font-weight="bold">3559</text>
<text x="1265.3" y="521.18" font-size="12" fill="#c0c0c0" textLength="11.7" lengthAdjust="spacingAndGlyphs">万</text>
</svg>
</body></html>
